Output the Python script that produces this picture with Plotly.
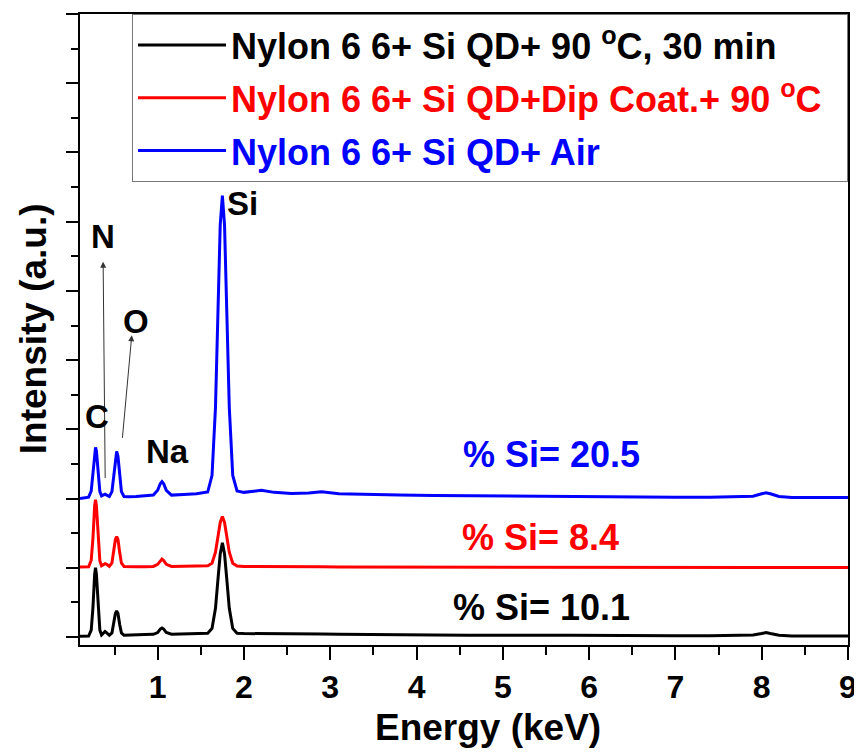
import plotly.graph_objects as go

# ---------------- data ----------------
energy_kev = [0.10, 0.16, 0.20, 0.23, 0.25, 0.27, 0.28, 0.29, 0.31, 0.33,
              0.35, 0.37, 0.39, 0.41, 0.44, 0.47, 0.49, 0.51, 0.525, 0.54,
              0.56, 0.58, 0.61, 0.66, 0.75, 0.85, 0.95, 1.00, 1.03, 1.05,
              1.07, 1.10, 1.16, 1.30, 1.45, 1.58, 1.63, 1.67, 1.70, 1.725,
              1.75, 1.775, 1.80, 1.83, 1.87, 1.92, 2.00, 2.10, 2.20, 2.35,
              2.55, 2.75, 2.90, 3.10, 3.40, 3.80, 4.20, 4.60, 5.00, 5.40,
              5.80, 6.20, 6.60, 7.00, 7.40, 7.75, 7.90, 8.00, 8.05, 8.10,
              8.20, 8.35, 8.60, 8.80, 9.00]

intensity_90c = [0.02, 0.03, 0.03, 0.20, 0.85, 1.82, 2.00, 1.82, 0.85, 0.20,
                 0.06, 0.12, 0.16, 0.12, 0.05, 0.12, 0.36, 0.68, 0.75, 0.68,
                 0.36, 0.12, 0.05, 0.05, 0.06, 0.07, 0.08, 0.13, 0.23, 0.26,
                 0.23, 0.13, 0.08, 0.09, 0.10, 0.11, 0.25, 0.83, 1.70, 2.40,
                 2.72, 2.40, 1.70, 0.83, 0.25, 0.11, 0.10, 0.10, 0.11, 0.11,
                 0.09, 0.10, 0.09, 0.08, 0.08, 0.07, 0.06, 0.05, 0.06, 0.05,
                 0.05, 0.04, 0.05, 0.04, 0.04, 0.04, 0.06, 0.10, 0.13, 0.10,
                 0.05, 0.03, 0.04, 0.03, 0.03]

intensity_dip = [0.02, 0.02, 0.03, 0.22, 0.85, 1.80, 1.97, 1.80, 0.85, 0.20,
                 0.06, 0.10, 0.12, 0.10, 0.04, 0.14, 0.44, 0.82, 0.90, 0.82,
                 0.44, 0.14, 0.04, 0.03, 0.03, 0.03, 0.04, 0.10, 0.21, 0.25,
                 0.21, 0.10, 0.04, 0.04, 0.05, 0.06, 0.13, 0.45, 0.92, 1.31,
                 1.48, 1.31, 0.92, 0.45, 0.13, 0.05, 0.04, 0.04, 0.05, 0.04,
                 0.03, 0.03, 0.03, 0.02, 0.02, 0.02, 0.02, 0.02, 0.02, 0.01,
                 0.01, 0.01, 0.01, 0.01, 0.01, 0.01, 0.01, 0.01, 0.01, 0.01,
                 0.01, 0.01, 0.01, 0.01, 0.01]

intensity_air = [0.00, 0.02, 0.04, 0.22, 0.70, 1.38, 1.48, 1.38, 0.70, 0.20,
                 0.08, 0.10, 0.13, 0.10, 0.06, 0.20, 0.65, 1.22, 1.36, 1.22,
                 0.65, 0.20, 0.06, 0.05, 0.06, 0.07, 0.10, 0.24, 0.43, 0.49,
                 0.43, 0.24, 0.10, 0.12, 0.14, 0.19, 0.67, 2.63, 5.50, 7.90,
                 8.75, 7.90, 5.50, 2.63, 0.67, 0.22, 0.18, 0.20, 0.24, 0.18,
                 0.15, 0.16, 0.20, 0.14, 0.12, 0.10, 0.09, 0.08, 0.07, 0.06,
                 0.06, 0.05, 0.05, 0.04, 0.04, 0.05, 0.07, 0.14, 0.17, 0.14,
                 0.06, 0.03, 0.03, 0.03, 0.03]

series_names = ["Nylon 6 6+ Si QD+ 90 <sup>o</sup>C, 30 min",
                "Nylon 6 6+ Si QD+Dip Coat.+ 90 <sup>o</sup>C",
                "Nylon 6 6+ Si QD+ Air"]
series_values = [intensity_90c, intensity_dip, intensity_air]
stack_offsets = [0, 2, 4]          # vertical offset of each stacked spectrum
series_colors = ["#000000", "#FF0000", "#0000FF"]
si_percent_labels = ["% Si= 10.1", "% Si= 8.4", "% Si= 20.5"]

x_tick_values = [1, 2, 3, 4, 5, 6, 7, 8, 9]
x_tick_labels = ["1", "2", "3", "4", "5", "6", "7", "8", "9"]
x_minor_values = [0.5, 1.5, 2.5, 3.5, 4.5, 5.5, 6.5, 7.5, 8.5]

for v in series_values:
    assert len(v) == len(energy_kev)

# ---------------- figure ----------------
FONT = "Liberation Sans"
fig = go.Figure()
for i, (name, vals, off, col) in enumerate(zip(series_names, series_values,
                                               stack_offsets, series_colors)):
    fig.add_trace(go.Scatter(
        x=energy_kev, y=[v + off for v in vals], mode="lines",
        line=dict(color=col, width=3),
        # trailing non-breaking spaces give the legend box its right padding
        name=f"<span style='color:{col}'>{name}&nbsp;&nbsp;</span>",
        legendgroup=f"g{i}",
    ))

# element labels with arrows
fig.add_annotation(x=0.368, y=10.84, ax=0.392, ay=4.55, axref="x", ayref="y",
                   text="", showarrow=True, arrowhead=2, arrowsize=1.2,
                   arrowwidth=1, arrowcolor="#333333")
fig.add_annotation(x=0.70, y=8.72, ax=0.59, ay=5.71, axref="x", ayref="y",
                   text="", showarrow=True, arrowhead=2, arrowsize=1.2,
                   arrowwidth=1, arrowcolor="#333333")

peak_labels = [("N", 0.37, 11.57), ("O", 0.75, 9.13), ("C", 0.296, 6.38),
               ("Na", 1.11, 5.36), ("Si", 1.98, 12.52)]
for txt, px, py in peak_labels:
    fig.add_annotation(x=px, y=py, text=txt, showarrow=False,
                       font=dict(family=FONT, size=33, color="black", weight="bold"))

pct_pos = [(5.45, 0.84), (5.44, 2.87), (5.56, 5.28)]
for txt, (px, py), col in zip(si_percent_labels, pct_pos, series_colors):
    fig.add_annotation(x=px, y=py, text=txt, showarrow=False,
                       font=dict(family=FONT, size=36, color=col, weight="bold"))

# axis titles
fig.add_annotation(xref="paper", yref="paper", x=0.531, y=-0.1315,
                   xanchor="center", yanchor="middle",
                   text="Energy (keV)", showarrow=False,
                   font=dict(family=FONT, size=37, color="black", weight="bold"))
fig.add_annotation(xref="paper", yref="paper", x=-0.0612, y=0.502,
                   xanchor="center", yanchor="middle",
                   text="Intensity (a.u.)", textangle=-90, showarrow=False,
                   font=dict(family=FONT, size=37, color="black", weight="bold"))

# the page adds an 8px body margin, so the figure is 8px smaller than the window
fig.update_layout(
    width=854, height=744,
    margin=dict(l=72, r=14, t=6, b=107),
    paper_bgcolor="white", plot_bgcolor="white",
    font=dict(family=FONT, color="black", weight="bold"),
    showlegend=True,
    legend=dict(x=1, xanchor="right", y=1, yanchor="top",
                bgcolor="white", bordercolor="#777777", borderwidth=1,
                font=dict(family=FONT, size=36, weight="bold"),
                itemwidth=88, tracegroupgap=3, traceorder="grouped"),
    xaxis=dict(range=[0.1, 9.0], showgrid=False, zeroline=False, automargin=False,
               showline=True, linecolor="black", linewidth=2, mirror=True,
               ticks="outside", ticklen=13, tickwidth=2, tickcolor="black",
               tickmode="array", tickvals=x_tick_values, ticktext=x_tick_labels,
               ticklabelstandoff=0,
               tickfont=dict(family=FONT, size=32, weight="bold"),
               minor=dict(ticks="outside", ticklen=8, tickwidth=2, tickcolor="black",
                          tickmode="array", tickvals=x_minor_values)),
    yaxis=dict(range=[-0.23, 18.0], showgrid=False, zeroline=False, automargin=False,
               showline=True, linecolor="black", linewidth=2, mirror=True,
               ticks="outside", ticklen=12, tickwidth=2, tickcolor="black",
               tickmode="linear", tick0=0, dtick=2, showticklabels=False,
               minor=dict(ticks="outside", ticklen=7, tickwidth=2,
                          tickcolor="black", dtick=1, tick0=0)),
)

fig.write_html("out.html")
